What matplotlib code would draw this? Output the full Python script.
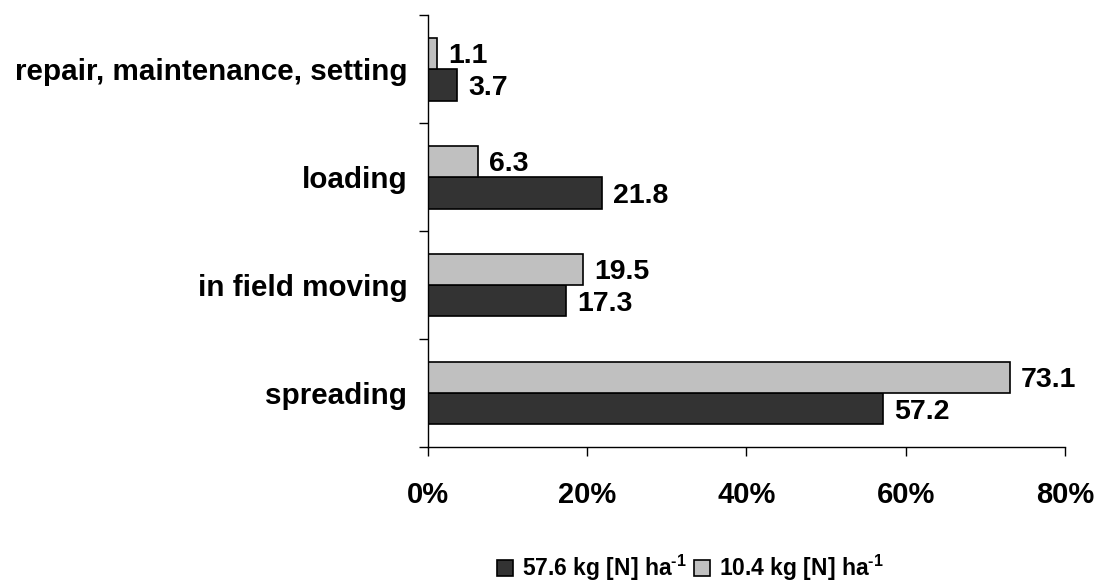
import numpy as np
import matplotlib
matplotlib.use('Agg')
import matplotlib.pyplot as plt
from matplotlib.ticker import FixedLocator, PercentFormatter

plt.rcParams['font.family'] = ['Liberation Sans', 'DejaVu Sans']
plt.rcParams['font.weight'] = 'bold'
plt.rcParams['mathtext.fontset'] = 'custom'
plt.rcParams['mathtext.bf'] = 'Liberation Sans:bold'
plt.rcParams['mathtext.rm'] = 'Liberation Sans:bold'
plt.rcParams['mathtext.default'] = 'bf'

categories = ['spreading', 'in field moving', 'loading', 'repair, maintenance, setting']
high_n = [57.2, 17.3, 21.8, 3.7]   # 57.6 kg [N] ha-1
low_n = [73.1, 19.5, 6.3, 1.1]     # 10.4 kg [N] ha-1
series_labels = [r'57.6 kg [N] ha$^{\text{-1}}$', r'10.4 kg [N] ha$^{\text{-1}}$']
xticks = [0, 20, 40, 60, 80]

fig = plt.figure(figsize=(11.03, 5.86), dpi=100)
ax = fig.add_axes([0.388, 0.237, 0.5775, 0.737])

y = np.arange(len(categories))
h = 0.29
dark = ax.barh(y - h / 2, high_n, height=h, color='#333333', edgecolor='black',
               linewidth=1.2, label=series_labels[0])
light = ax.barh(y + h / 2, low_n, height=h, color='#c0c0c0', edgecolor='black',
                linewidth=1.2, label=series_labels[1])

# value labels just right of each bar
for bars, vals in ((dark, high_n), (light, low_n)):
    for b, v in zip(bars, vals):
        ax.annotate(f'{v:.1f}', (v, b.get_y() + b.get_height() / 2),
                    xytext=(8, -2), textcoords='offset points',
                    va='center', ha='left', fontsize=20.5, fontweight='bold')

ax.set_xlim(0, 80)
ax.set_ylim(-0.5, len(categories) - 0.5)
ax.set_xticks(xticks)
ax.xaxis.set_major_formatter(PercentFormatter(decimals=0))
ax.tick_params(axis='x', labelsize=21, length=6.5, width=1, pad=18)

ax.set_yticks(y)
ax.set_yticklabels(categories, fontsize=21.3, fontweight='bold')
ax.yaxis.set_minor_locator(FixedLocator(np.arange(-0.5, len(categories), 1)))
ax.tick_params(axis='y', which='major', length=0, pad=15)
ax.tick_params(axis='y', which='minor', length=6.5, width=1)

for s in ('top', 'right'):
    ax.spines[s].set_visible(False)
for s in ('left', 'bottom'):
    ax.spines[s].set_linewidth(1)

fig.legend(handles=[dark, light], loc='center', bbox_to_anchor=(0.626, 0.031),
           ncol=2, frameon=False, fontsize=16.5, handlelength=0.7,
           handleheight=0.7, handletextpad=0.4, columnspacing=0.3)

fig.savefig('out.png', dpi=100)
